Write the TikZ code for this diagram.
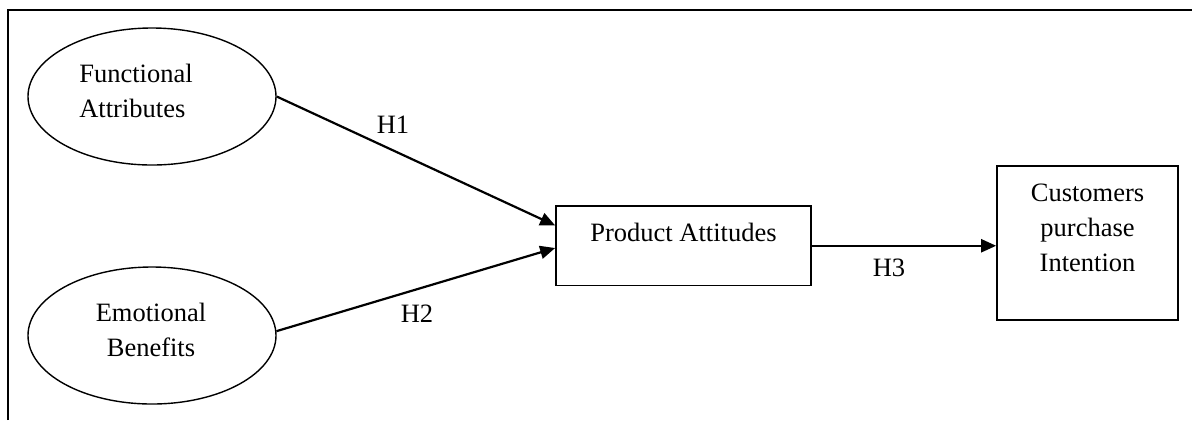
\documentclass[tikz,border=0pt]{standalone}
\usepackage{fontspec}
\setmainfont{Liberation Serif}
\usetikzlibrary{shapes.geometric,arrows.meta,positioning}

\begin{document}
\begin{tikzpicture}[x=0.5pt,y=0.5pt,
  every node/.style={inner sep=0pt,font=\fontsize{13.25pt}{17.5pt}\selectfont},
  attr/.style={draw=black,ellipse,line width=0.7pt,minimum width=124pt,minimum height=68.5pt},
  box/.style={draw=black,rectangle,line width=0.85pt},
  link/.style={draw=black,line width=1.1pt,-{Triangle[length=7.5pt,width=6.5pt]}}]
\useasboundingbox (0,0) rectangle (1192,-420);
\draw [black,line width=0.75pt] (8,-420) -- (8,-10) -- (1192,-10);
\node [attr] (fa) at (152,-96.5) {};
\node [align=left] (fatext) at (136,-90.5) {Functional\\Attributes};
\node [attr] (eb) at (152,-335.5) {};
\node [align=center] (ebtext) at (151,-329.5) {Emotional\\Benefits};
\node [box,minimum width=127.5pt,minimum height=39.75pt] (pa) at (683.5,-245.75) {};
\node [anchor=base] (patext) at (683.5,-241) {Product Attitudes};
\node [box,minimum width=90.5pt,minimum height=77pt] (cpi) at (1087.5,-243) {};
\node [align=center] (cpitext) at (1087.5,-227.5) {Customers\\purchase\\Intention};
\draw [link] (fa.east) -- (pa.171);
\node (h1) at (393,-124.5) {H1};
\draw [link] (eb.2) -- (pa.181);
\node (h2) at (417,-314) {H2};
\draw [link] (pa.east) -- (pa.east -| cpi.west);
\node (h3) at (889,-267.5) {H3};
\end{tikzpicture}
\end{document}
